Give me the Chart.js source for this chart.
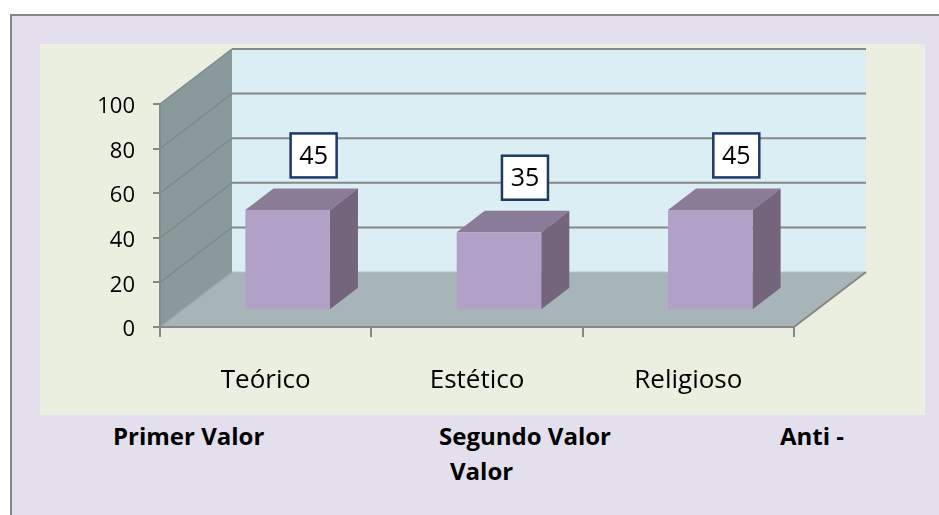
<!DOCTYPE html>
<html>
<head>
<meta charset="utf-8">
<script src="https://cdn.jsdelivr.net/npm/chart.js@4"></script>
<style>
    body { margin: 0; background: #ffffff; width: 939px; height: 515px; overflow: hidden; position: relative; font-family: "Open Sans", sans-serif; }
    #page { position: absolute; left: 10px; top: 14px; width: 940px; height: 510px; background: #e4dfec; border-left: 2px solid #878787; border-top: 2px solid #878787; }
    #chart_box { position: absolute; left: 40px; top: 44px; width: 885px; height: 371px; background: #ebefdf; }
    .caption { position: absolute; font-weight: bold; font-size: 24px; line-height: 24px; color: #000; white-space: nowrap; }
</style>
</head>
<body>
<div id="page"></div>
<div id="chart_box"><canvas id="chart"></canvas></div>
<div class="caption" style="left:113px; top:424px;">Primer Valor</div>
<div class="caption" style="left:439px; top:424px;">Segundo Valor</div>
<div class="caption" style="left:780px; top:424px;">Anti -</div>
<div class="caption" style="left:450px; top:459px;">Valor</div>
<script>
// categories and values
const categories = ["Teórico", "Estético", "Religioso"];
const values = [45, 35, 45];
const y_min = 0;
const y_max = 100;
const y_step = 20;

// depth of the 3d box, and where the bars sit inside it
const depth = { dx: 72, dy: -55 };
const bar_front = 0.305;
const bar_depth = 0.39;

function polygon(ctx, pts, fill) {
    ctx.beginPath();
    ctx.moveTo(pts[0][0], pts[0][1]);
    for (let i = 1; i < pts.length; i++) ctx.lineTo(pts[i][0], pts[i][1]);
    ctx.closePath();
    ctx.fillStyle = fill;
    ctx.fill();
}

function line(ctx, x1, y1, x2, y2, color, w) {
    ctx.beginPath();
    ctx.moveTo(x1, y1);
    ctx.lineTo(x2, y2);
    ctx.strokeStyle = color;
    ctx.lineWidth = w;
    ctx.stroke();
}

// walls, floor and grid of the excel-like 3d chart
const walls_plugin = {
    id: 'walls_3d',
    beforeDatasetsDraw: (chart) => {
        const ctx = chart.ctx;
        const a = chart.chartArea;
        const ys = chart.scales.y;
        const L = a.left, R = a.right;
        const T = ys.getPixelForValue(y_max), B = ys.getPixelForValue(y_min);
        const dx = depth.dx, dy = depth.dy;
        ctx.save();
        // side wall
        polygon(ctx, [[L, T], [L + dx, T + dy], [L + dx, B + dy], [L, B]], '#8a999b');
        // floor
        polygon(ctx, [[L, B], [L + dx, B + dy], [R + dx, B + dy], [R, B]], '#a7b5b9');
        // back wall
        polygon(ctx, [[L + dx, T + dy], [R + dx, T + dy], [R + dx, B + dy], [L + dx, B + dy]], '#dbeef4');
        // grid lines on back and side wall
        for (let v = y_min; v <= y_max; v += y_step) {
            const y = ys.getPixelForValue(v);
            if (v > y_min) line(ctx, L + dx, y + dy, R + dx, y + dy, '#878787', 2);
            line(ctx, L, y, L + dx, y + dy, v === y_min ? '#9aa6a8' : '#7d8a8c', 1.5);
        }
        line(ctx, L + dx, B + dy, R + dx, B + dy, '#b7c4c8', 1);
        // front edges
        line(ctx, L, T, L, B, '#7f8b8d', 2);
        line(ctx, L, B, R, B, '#878787', 2);
        line(ctx, R, B, R + dx, B + dy, '#878787', 2);
        ctx.restore();
    },
    afterDatasetsDraw: (chart) => {
        const ctx = chart.ctx;
        const meta = chart.getDatasetMeta(0);
        const fdx = depth.dx * bar_front, fdy = depth.dy * bar_front;
        const bdx = depth.dx * bar_depth, bdy = depth.dy * bar_depth;
        ctx.save();
        meta.data.forEach((bar, i) => {
            const x0 = bar.x - bar.width / 2 + fdx;
            const x1 = bar.x + bar.width / 2 + fdx;
            const yt = bar.y + fdy;
            const yb = bar.base + fdy;
            // top
            polygon(ctx, [[x0, yt], [x0 + bdx, yt + bdy], [x1 + bdx, yt + bdy], [x1, yt]], '#8a7b96');
            // right side
            polygon(ctx, [[x1, yt], [x1 + bdx, yt + bdy], [x1 + bdx, yb + bdy], [x1, yb]], '#74657d');
            // front
            polygon(ctx, [[x0, yt], [x1, yt], [x1, yb], [x0, yb]], '#b2a1c7');

            // value label in a box
            const cx = bar.x + fdx + 26;
            const bw = 46, bh = 44;
            const by = yt + bdy - 11 - bh;
            ctx.fillStyle = '#ffffff';
            ctx.fillRect(cx - bw / 2, by, bw, bh);
            ctx.strokeStyle = '#1f3864';
            ctx.lineWidth = 2.5;
            ctx.strokeRect(cx - bw / 2, by, bw, bh);
            ctx.fillStyle = '#000000';
            ctx.font = '25px "Open Sans"';
            ctx.textAlign = 'center';
            ctx.textBaseline = 'middle';
            ctx.fillText(String(values[i]), cx, by + bh / 2 + 1);
        });
        ctx.restore();
    }
};

let myChart = new Chart(document.getElementById('chart'), {
    type: 'bar',
    data: {
        labels: categories,
        datasets: [{
            data: values,
            backgroundColor: 'rgba(0,0,0,0)',
            borderWidth: 0,
            barPercentage: 0.4,
            categoryPercentage: 1.0
        }]
    },
    options: {
        responsive: true,
        maintainAspectRatio: false,
        animation: false,
        layout: { padding: { left: 0, right: 131, top: 60, bottom: 0 } },
        plugins: {
            legend: { display: false },
            tooltip: { enabled: false }
        },
        scales: {
            x: {
                offset: true,
                afterFit: (scale) => { scale.height = 88; },
                grid: { offset: true, drawOnChartArea: false, drawTicks: true, tickLength: 10, color: '#878787', lineWidth: 2 },
                border: { display: false },
                ticks: { color: '#000', padding: 28, font: { family: 'Open Sans', size: 26 } }
            },
            y: {
                min: y_min,
                max: y_max,
                afterFit: (scale) => { scale.width = 120; },
                grid: { drawOnChartArea: false, drawTicks: true, tickLength: 7, color: '#878787', lineWidth: 2 },
                border: { display: false },
                ticks: { stepSize: y_step, color: '#000', padding: 18, labelOffset: 3, font: { family: 'Open Sans', size: 22 } }
            }
        }
    },
    plugins: [walls_plugin]
});
</script>
</body>
</html>
